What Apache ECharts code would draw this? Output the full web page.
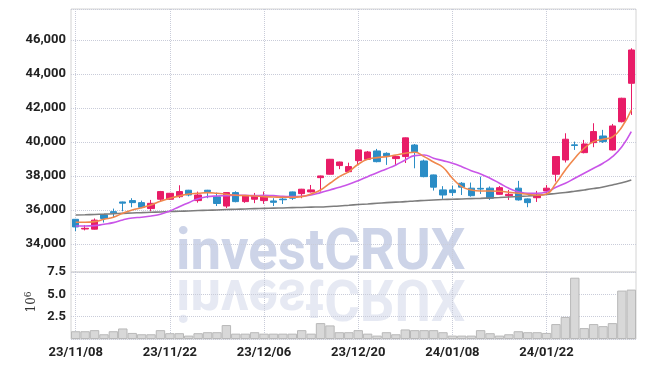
<!DOCTYPE html>
<html>
<head>
<meta charset="utf-8">
<script src="https://cdn.jsdelivr.net/npm/echarts@6/dist/echarts.min.js"></script>
<style>
  html, body { margin: 0; padding: 0; background: #fff; }
  #chart { width: 645px; height: 366px; }
</style>
</head>
<body>
<div id="chart"></div>
<script>
// trading days shown on the chart
var dates = [
  '23/11/08','23/11/09','23/11/10','23/11/13','23/11/14','23/11/15','23/11/16','23/11/17','23/11/20','23/11/21',
  '23/11/22','23/11/23','23/11/24','23/11/27','23/11/28','23/11/29','23/11/30','23/12/01','23/12/04','23/12/05',
  '23/12/06','23/12/07','23/12/08','23/12/11','23/12/12','23/12/13','23/12/14','23/12/15','23/12/18','23/12/19',
  '23/12/20','23/12/21','23/12/22','23/12/26','23/12/27','23/12/28','24/01/02','24/01/03','24/01/04','24/01/05',
  '24/01/08','24/01/09','24/01/10','24/01/11','24/01/12','24/01/15','24/01/16','24/01/17','24/01/18','24/01/19',
  '24/01/22','24/01/23','24/01/24','24/01/25','24/01/26','24/01/29','24/01/30','24/01/31','24/02/01','24/02/02'
];
var opens = [
  35450,34880,34870,35700,35900,36470,36550,36430,36080,36630,
  36630,36780,37160,36550,37160,36770,36230,37020,36490,36630,
  36550,36530,36640,37060,36960,37060,37900,38100,38610,38250,
  38900,38980,39470,39330,39020,39140,39820,38880,38060,37180,
  37180,37570,37280,37270,37280,36920,36840,37280,36650,36720,
  37120,38100,38940,39830,39370,39960,40350,39530,41190,43450
];
var closes = [
  35000,34920,35400,35500,35830,36400,36430,36160,36390,37080,
  36980,37080,36880,36880,37080,36380,37020,36490,36840,36840,
  36800,36450,36600,36690,37220,37180,38000,38980,38820,38550,
  39530,39410,38840,39180,39140,40240,39430,37960,37340,36880,
  37020,37340,36840,37230,36690,37310,36920,36590,36430,36870,
  37280,39140,40160,39790,39880,40610,40020,40940,42570,45410
];
var lows = [
  34760,34800,34850,35260,35570,35920,36160,36100,35920,36490,
  36600,36700,36800,36430,36690,36230,36110,36450,36420,36400,
  36360,36230,36350,36590,36690,37030,37080,38080,38400,38200,
  38650,38950,38800,38650,38590,38760,38450,37920,37140,36650,
  36820,36880,36780,36940,36590,36900,36590,36550,36160,36470,
  36880,37670,38790,39530,39330,39690,39940,39500,41150,41590
];
var highs = [
  35470,35100,35500,35720,36080,36490,36690,36550,36590,37120,
  37000,37450,37180,37080,37180,37020,37040,37100,36880,37000,
  37080,36690,36820,37080,37240,37470,38020,39000,38840,38780,
  39550,39470,39590,39390,39200,40260,39880,38960,38080,37400,
  37420,37640,37610,37960,37380,37410,37180,37710,36680,37120,
  37470,39160,40510,40020,40120,41100,40710,41060,42600,45510
];
// volume in millions of shares
var volumes = [
  0.87,0.87,0.99,0.53,0.87,1.18,0.68,0.53,0.53,0.99,
  0.65,0.65,0.38,0.65,0.76,0.76,1.56,0.60,0.60,0.76,
  0.60,0.60,0.60,0.60,0.99,0.60,1.78,1.52,0.76,0.76,
  0.99,0.60,0.38,0.76,0.53,1.07,0.99,0.99,0.99,0.76,
  0.38,0.38,0.38,0.99,0.65,0.38,0.53,0.87,0.76,0.76,
  0.68,1.67,2.47,6.86,1.22,1.67,1.44,1.78,5.42,5.53
];
// moving average lines
var maShort = [
  35277,35277,35312,35453,35571,35806,36000,36135,36294,36512,
  36688,36823,36941,36982,37018,36982,36923,36865,36841,36823,
  36782,36765,36747,36747,36782,36941,37176,37571,37959,38253,
  38688,38982,39076,39135,39235,39335,39394,39135,38823,38512,
  37865,37371,37176,37118,37118,37100,37041,36982,36923,36865,
  36941,37571,38353,39041,39629,40018,40159,40294,40882,41882
];
var maMid = [
  35059,35059,35077,35159,35253,35412,35529,35571,35647,35747,
  35941,36194,36429,36665,36782,36823,36841,36865,36865,36841,
  36865,36841,36806,36782,36806,36882,37018,37176,37335,37512,
  37723,37959,38194,38412,38647,38941,39194,39235,39041,38900,
  38747,38547,38312,38118,37865,37571,37276,37076,36982,36982,
  37059,37335,37571,37865,38159,38453,38747,39135,39723,40606
];
var maLong = [
  35706,35718,35735,35753,35776,35800,35824,35841,35865,35882,
  35906,35924,35941,35965,35982,36000,36024,36041,36059,36076,
  36094,36106,36118,36135,36147,36165,36176,36206,36235,36276,
  36318,36353,36394,36429,36459,36488,36529,36559,36588,36612,
  36629,36647,36665,36682,36706,36729,36759,36788,36824,36865,
  36912,36971,37029,37100,37176,37259,37353,37471,37600,37765
];

var upColor = '#e81c67';
var downColor = '#2b8dc6';
var gridLine = { show: true, lineStyle: { color: '#c9ccd9', type: 'dotted', width: 1 } };
var labelFont = { color: '#222', fontFamily: 'Roboto', fontWeight: 'bold', fontSize: 13 };

var candles = dates.map(function (d, i) {
  return [opens[i], closes[i], lows[i], highs[i]];
});

var myChart = echarts.init(document.getElementById('chart'));

var option = {
  animation: false,
  backgroundColor: '#fff',
  grid: [
    { left: 71, right: 9, top: 9, height: 263, show: true, borderColor: '#d4d4d4', borderWidth: 1 },
    { left: 71, right: 9, top: 272, height: 67, show: true, borderColor: '#d4d4d4', borderWidth: 1 }
  ],
  xAxis: [
    {
      type: 'category', gridIndex: 0, data: dates, boundaryGap: true,
      axisLine: { show: false }, axisLabel: { show: false },
      axisTick: { show: false, alignWithLabel: true, interval: 9 },
      splitLine: Object.assign({ interval: 9, alignWithLabel: true }, gridLine)
    },
    {
      type: 'category', gridIndex: 1, data: dates, boundaryGap: true,
      axisLine: { show: false },
      axisTick: { show: false, alignWithLabel: true, interval: 9 },
      axisLabel: Object.assign({ interval: 9, margin: 7 }, labelFont),
      splitLine: Object.assign({ interval: 9, alignWithLabel: true }, gridLine)
    }
  ],
  yAxis: [
    {
      type: 'value', gridIndex: 0, min: 32350, max: 47820, splitNumber: 7,
      axisLine: { show: false }, axisTick: { show: false },
      axisLabel: Object.assign({
        showMinLabel: false, showMaxLabel: false, margin: 5,
        formatter: function (v) { return v.toLocaleString('en-US'); }
      }, labelFont),
      splitLine: gridLine
    },
    {
      type: 'value', gridIndex: 1, min: 0, max: 7.5, interval: 2.5,
      axisLine: { show: false }, axisTick: { show: false },
      axisLabel: Object.assign({
        showMinLabel: false, margin: 5,
        formatter: function (v) { return v.toFixed(1); }
      }, labelFont),
      splitLine: gridLine
    }
  ],
  graphic: [
    {
      type: 'text', z: -1, x: 176, y: 254, scaleX: 0.94,
      style: {
        text: 'investCRUX', font: 'bold 58px Roboto', fill: '#cdd4e8',
        verticalAlign: 'middle', align: 'left'
      }
    },
    {
      type: 'text', z: -1, x: 176, y: 294, scaleX: 0.94, scaleY: -1,
      style: {
        text: 'investCRUX', font: 'bold 58px Roboto', fill: '#cdd4e8', opacity: 0.5,
        verticalAlign: 'middle', align: 'left'
      }
    },
    {
      type: 'text', x: 32, y: 302, rotation: Math.PI / 2,
      style: {
        text: '{a|10}{b|6}', align: 'center', verticalAlign: 'middle',
        rich: {
          a: { fontFamily: 'DejaVu Serif', fontSize: 12, fill: '#333' },
          b: { fontFamily: 'DejaVu Serif', fontSize: 9, fill: '#333', verticalAlign: 'top', padding: [0, 0, 6, 0] }
        }
      }
    }
  ],
  series: [
    {
      name: 'price', type: 'candlestick', xAxisIndex: 0, yAxisIndex: 0,
      data: candles, barWidth: '72%',
      itemStyle: {
        color: upColor, color0: downColor,
        borderColor: upColor, borderColor0: downColor, borderWidth: 1
      }
    },
    {
      name: 'long', type: 'line', xAxisIndex: 0, yAxisIndex: 0, data: maLong,
      smooth: true, showSymbol: false, lineStyle: { color: '#7d7d7d', width: 1.6 }
    },
    {
      name: 'mid', type: 'line', xAxisIndex: 0, yAxisIndex: 0, data: maMid,
      smooth: true, showSymbol: false, lineStyle: { color: '#c955e8', width: 1.6 }
    },
    {
      name: 'short', type: 'line', xAxisIndex: 0, yAxisIndex: 0, data: maShort,
      smooth: true, showSymbol: false, lineStyle: { color: '#f0874c', width: 1.6 }
    },
    {
      name: 'volume', type: 'bar', xAxisIndex: 1, yAxisIndex: 1, data: volumes,
      barCategoryGap: '0%',
      itemStyle: { color: '#d8d8d8', borderColor: '#b8b8b8', borderWidth: 1 }
    }
  ]
};

myChart.setOption(option);
</script>
</body>
</html>
